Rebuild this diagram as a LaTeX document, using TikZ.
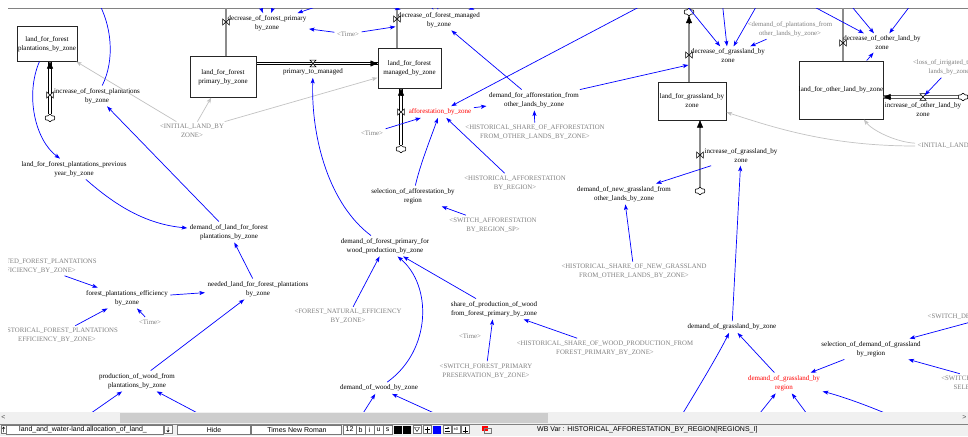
\documentclass[tikz,border=0pt]{standalone}
\usepackage{fontspec}
\setmainfont{Liberation Serif}
\newfontfamily\uifont{Liberation Sans}
\usetikzlibrary{arrows.meta,calc,shapes.symbols}

\definecolor{linkblue}{RGB}{0,0,255}
\definecolor{shadowtxt}{RGB}{128,128,128}
\definecolor{shadowline}{RGB}{195,195,195}
\definecolor{vred}{RGB}{255,0,0}
\definecolor{barbg}{RGB}{240,240,240}
\definecolor{thumbgray}{RGB}{205,205,205}
\definecolor{rulegray}{RGB}{130,130,130}
\definecolor{fieldline}{RGB}{120,120,120}

\tikzset{
  vtxt/.style={font=\fontsize{7}{9}\selectfont, align=center, inner sep=2.5pt},
  auxv/.style={vtxt},
  redv/.style={vtxt, text=vred},
  shadowv/.style={vtxt, font=\fontsize{6.8}{8.8}\selectfont, text=shadowtxt},
  stock/.style 2 args={draw=black!85, line width=1pt, fill=white, align=center,
      font=\fontsize{7}{9}\selectfont, inner sep=1pt, minimum width=#1pt, minimum height=#2pt},
  link/.style={draw=linkblue, line width=0.7pt, -{Stealth[length=5.5pt,width=4pt,inset=1.2pt]}},
  freelink/.style={draw=linkblue, line width=0.7pt},
  glink/.style={draw=shadowline, line width=0.7pt, -{Stealth[length=5.5pt,width=4pt,inset=1.2pt]}},
  pipew/.style={draw=black, line width=0.8pt, double=white, double distance=1.8pt},
  pipeg/.style={draw=black!75, line width=0.7pt, double=black!45, double distance=1.5pt},
  flowtip/.style={-{Triangle[length=7pt,width=6pt]}, line width=0.4pt, draw=black, fill=black},
  srccloud/.style={cloud, cloud puffs=6, cloud puff arc=140, aspect=1.3, draw=black, fill=white,
      line width=0.6pt, minimum width=10pt, minimum height=7.5pt, inner sep=0pt},
  valveV/.pic={\filldraw[fill=white, draw=black, line width=0.6pt]
      (-3.4,-3) -- (-3.4,3) -- (3.4,-3) -- (3.4,3) -- cycle;},
  valveH/.pic={\filldraw[fill=white, draw=black, line width=0.6pt]
      (-3,-3.4) -- (3,-3.4) -- (-3,3.4) -- (3,3.4) -- cycle;},
  uitxt/.style={font=\uifont\fontsize{7}{8}\selectfont, inner sep=0pt},
  uibox/.style={draw=fieldline, line width=0.5pt, fill=white},
}

\begin{document}
\begin{tikzpicture}[x=1pt,y=-1pt]
\useasboundingbox (0,0) rectangle (968,436);
\fill[white] (0,0) rectangle (968,436);
\draw[rulegray, line width=0.8pt] (8,8) -- (968,8);

\begin{scope}
\clip (8,8.5) rectangle (968,412);

% ---------- stocks
\node[stock={60}{34}] (s1) at (47,44) {land\_for\_forest\\plantations\_by\_zone};
\node[stock={66}{40}] (s2) at (223,77) {land\_for\_forest\\primary\_by\_zone};
\node[stock={63}{39}] (s3) at (409.5,68.5) {land\_for\_forest\\managed\_by\_zone};
\node[stock={68}{38}] (s4) at (692,101) {land\_for\_grassland\_by\\zone};
\node[stock={84}{58}] (s5) at (841,90) {\makebox[0pt]{land\_for\_other\_land\_by\_zone}};

% ---------- sources and sinks
\node[srccloud] (c1) at (50,118) {};
\node[srccloud] (c5) at (401,149) {};
\node[srccloud] (c6) at (689,12) {};
\node[srccloud] (c7) at (700,191) {};
\node[srccloud] (c9) at (963,97) {};

% ---------- pipe end points
\coordinate (e1) at (c1 |- s1.south);
\coordinate (top2) at (226,0);
\coordinate (e2) at (s2.north -| top2);
\coordinate (v3) at (313,63.5);
\coordinate (e3a) at (s2.east |- v3);
\coordinate (e3b) at (s3.west |- v3);
\coordinate (top4) at (397,0);
\coordinate (e4) at (s3.north -| top4);
\coordinate (e5) at (c5 |- s3.south);
\coordinate (e6) at (c6 |- s4.north);
\coordinate (e7) at (c7 |- s4.south);
\coordinate (top8) at (843,0);
\coordinate (e8) at (s5.north -| top8);
\coordinate (v9) at (923,97);
\coordinate (e9) at (s5.east |- v9);
\coordinate (c1top) at (c1.north);
\coordinate (c5top) at (c5.north);

% ---------- pipes
\draw[pipew] (c1top) -- (e1);
\draw[pipeg] (e2) -- (top2);
\draw[pipew] (e3a) -- (e3b);
\draw[pipeg] (e4) -- (top4);
\draw[pipew] (c5top) -- (e5);
\draw[pipeg] (e6) -- (c6);
\draw[pipeg] (c7) -- (e7);
\draw[pipeg] (e8) -- (top8);
\draw[pipew] (c9) -- (e9);

% ---------- flow arrow heads
\draw[flowtip] ($(e1)+(0,7)$) -- (e1);
\draw[flowtip] ($(e3b)+(-7,0)$) -- (e3b);
\draw[flowtip] ($(e5)+(0,7)$) -- (e5);
\draw[flowtip] ($(c6.south)+(0,7)$) -- (c6.south);
\draw[flowtip] ($(e7)+(0,7)$) -- (e7);
\draw[flowtip] ($(e9)+(7,0)$) -- (e9);

% ---------- valves
\coordinate (v1) at (50,95);
\coordinate (v2) at (226,22);
\coordinate (v4) at (397,19);
\coordinate (v5) at (401,112);
\coordinate (v6) at (689,55);
\coordinate (v7) at (700,155);
\coordinate (v8) at (843,43);
\pic at (v1) {valveV};
\pic at (v2) {valveV};
\pic at (v3) {valveH};
\pic at (v4) {valveV};
\pic at (v5) {valveV};
\pic at (v6) {valveV};
\pic at (v7) {valveV};
\pic at (v8) {valveV};
\pic at (v9) {valveH};

% ---------- variables
\node[auxv] (a1) at (97,96) {increase\_of\_forest\_plantations\\by\_zone};
\node[auxv] (a2) at (267,23.5) {decrease\_of\_forest\_primary\\by\_zone};
\node[auxv] (a3) at (313,72) {primary\_to\_managed};
\node[auxv] (a4) at (439,20) {decrease\_of\_forest\_managed\\by\_zone};
\node[redv] (a5) at (440,112) {afforestation\_by\_zone};
\node[auxv] (a6) at (534,100) {demand\_for\_afforestation\_from\\other\_lands\_by\_zone};
\node[auxv] (a7) at (413,196) {selection\_of\_afforestation\_by\\region};
\node[auxv] (a8) at (74,169) {land\_for\_forest\_plantations\_previous\\year\_by\_zone};
\node[auxv] (a9) at (229,232) {demand\_of\_land\_for\_forest\\plantations\_by\_zone};
\node[auxv] (a10) at (258,289) {needed\_land\_for\_forest\_plantations\\by\_zone};
\node[auxv] (a11) at (127,298) {forest\_plantations\_efficiency\\by\_zone};
\node[auxv] (a12) at (137,381) {production\_of\_wood\_from\\plantations\_by\_zone};
\node[auxv] (a13) at (385,246) {demand\_of\_forest\_primary\_for\\wood\_production\_by\_zone};
\node[auxv] (a14) at (494,309) {share\_of\_production\_of\_wood\\from\_forest\_primary\_by\_zone};
\node[auxv] (a15) at (379,388) {demand\_of\_wood\_by\_zone};
\node[auxv] (a16) at (728,56) {decrease\_of\_grassland\_by\\zone};
\node[auxv] (a17) at (741,156) {increase\_of\_grassland\_by\\zone};
\node[auxv] (a18) at (624,194) {demand\_of\_new\_grassland\_from\\other\_lands\_by\_zone};
\node[auxv] (a19) at (732,327) {demand\_of\_grassland\_by\_zone};
\node[auxv] (a20) at (871,349) {selection\_of\_demand\_of\_grassland\\by\_region};
\node[redv] (a21) at (784,383) {demand\_of\_grassland\_by\\region};
\node[auxv] (a22) at (882,43) {decrease\_of\_other\_land\_by\\zone};
\node[auxv] (a23) at (923,110) {increase\_of\_other\_land\_by\\zone};

% ---------- shadow variables
\node[shadowv] (g1) at (348,34) {<Time>};
\node[shadowv] (g2) at (192,131) {<INITIAL\_LAND\_BY\\ZONE>};
\node[shadowv] (g3) at (372,133) {<Time>};
\node[shadowv] (g4) at (535,132.5) {<HISTORICAL\_SHARE\_OF\_AFFORESTATION\\FROM\_OTHER\_LANDS\_BY\_ZONE>};
\node[shadowv] (g5) at (515,183) {<HISTORICAL\_AFFORESTATION\\BY\_REGION>};
\node[shadowv] (g6) at (493,225) {<SWITCH\_AFFORESTATION\\BY\_REGION\_SP>};
\node[shadowv] (g7) at (790,29) {<demand\_of\_plantations\_from\\other\_lands\_by\_zone>};
\node[shadowv] (g8) at (951,67.5) {<loss\_of\_irrigated\_to\_other\\lands\_by\_zone>};
\node[shadowv, anchor=west] (g9) at (915,146) {<INITIAL\_LAND\_BY\_ZONE>};
\node[shadowv] (g10) at (348,316.5) {<FOREST\_NATURAL\_EFFICIENCY\\BY\_ZONE>};
\node[shadowv] (g11) at (470,336) {<Time>};
\node[shadowv] (g12) at (486,371) {<SWITCH\_FOREST\_PRIMARY\\PRESERVATION\_BY\_ZONE>};
\node[shadowv] (g13) at (605,348) {<HISTORICAL\_SHARE\_OF\_WOOD\_PRODUCTION\_FROM\\FOREST\_PRIMARY\_BY\_ZONE>};
\node[shadowv] (g14) at (634,271.5) {<HISTORICAL\_SHARE\_OF\_NEW\_GRASSLAND\\FROM\_OTHER\_LANDS\_BY\_ZONE>};
\node[shadowv] (g15) at (37,266) {<PROJECTED\_FOREST\_PLANTATIONS\\EFFICIENCY\_BY\_ZONE>};
\node[shadowv] (g16) at (57,335.5) {<HISTORICAL\_FOREST\_PLANTATIONS\\EFFICIENCY\_BY\_ZONE>};
\node[shadowv] (g17) at (150,322) {<Time>};
\node[shadowv, anchor=west] (g18) at (925,317) {<SWITCH\_DEMAND\_OF\_GRASSLAND>};
\node[shadowv] (g19) at (995,383.5) {<SWITCH\_DEMAND\_GRASSLAND\\SELECTION\_BY\_REGION>};

% ---------- free ends of links leaving the visible area
\coordinate (t0) at (97,0);
\coordinate (t1) at (641,6);
\coordinate (t2) at (258,0);
\coordinate (t3) at (276,0);
\coordinate (t4) at (330,2);
\coordinate (t5) at (380,4);
\coordinate (t6) at (428,0);
\coordinate (t7) at (437,0);
\coordinate (t8) at (490,2);
\coordinate (t9) at (684,2);
\coordinate (t10) at (722,0);
\coordinate (t11) at (760,0);
\coordinate (t12) at (805,2);
\coordinate (t13) at (848,2);
\coordinate (t14) at (913,2);
\coordinate (b1) at (84,418);
\coordinate (b2) at (207,418);
\coordinate (b3) at (360,418);
\coordinate (b4) at (445,418);
\coordinate (b5) at (680,418);
\coordinate (b6) at (756,418);
\coordinate (b7) at (810,418);
\coordinate (b8) at (892,416);

% ---------- initial-value links
\draw[glink] (g2) -- (s1);
\draw[glink] (g2) -- (s2);
\draw[glink] (g2) -- (s3);
\draw[glink] (g9) .. controls (830,146) and (775,128) .. (s4);
\draw[glink] (g9) .. controls (895,142) and (872,130) .. (s5);

% ---------- forest links
\draw[link] (g1) -- (a2);
\draw[link] (g1) -- (a4);
\draw[link] (t2) -- (a2);
\draw[link] (t3) -- (a2);
\draw[link] (t4) -- (a2);
\draw[link] (t5) -- (a4);
\draw[link] (t6) -- (a4);
\draw[link] (t7) -- (a4);
\draw[link] (t8) -- (a4);
\draw[link] (g3) -- (a5);
\draw[link] (a7) .. controls (420,165) and (430,140) .. (a5);
\draw[link] (g5) -- (a5);
\draw[link] (a5) -- (a6);
\draw[link] (t1) -- (a5);
\draw[link] (a6) -- (a4);
\draw[link] (a6) -- (a16);
\draw[link] (g4) -- (a6);
\draw[link] (g6) -- (a7);
\draw[link] (a9) -- (a1);
\draw[freelink] (a1) .. controls (115,60) and (112,25) .. (t0);
\draw[link] (s1) .. controls (25,95) and (35,140) .. (a8);
\draw[link] (a8) .. controls (115,205) and (145,224) .. (a9);
\draw[link] (a10) -- (a9);
\draw[link] (a11) -- (a10);
\draw[link] (g15) -- (a11);
\draw[link] (g16) -- (a11);
\draw[link] (g17) -- (a11);
\draw[link] (a12) -- (a10);
\draw[link] (b1) -- (a12);
\draw[link] (b2) -- (a12);
\draw[link] (a13) .. controls (330,205) and (311,140) .. (a3);
\draw[link] (g10) -- (a13);
\draw[link] (a15) .. controls (432,350) and (432,285) .. (a13);
\draw[link] (a14) -- (a13);
\draw[link] (g12) -- (a14);
\draw[link] (g13) -- (a14);
\draw[link] (b3) -- (a15);
\draw[link] (b4) -- (a15);

% ---------- grassland and other land links
\draw[link] (t9) -- (a16);
\draw[link] (t10) -- (a16);
\draw[link] (t11) -- (a16);
\draw[link] (g7) -- (a16);
\draw[link] (t12) -- (a22);
\draw[link] (t13) -- (a22);
\draw[link] (t14) -- (a22);
\draw[link] (s5) -- (a22);
\draw[link, shorten >=2.5pt] (g8) -- (v9);
\draw[link] (a17) -- (a18);
\draw[link] (g14) -- (a18);
\draw[link] (a19) -- (a17);
\draw[link] (a21) -- (a19);
\draw[link] (b5) .. controls (700,385) and (718,355) .. (a19);
\draw[link] (a20) -- (a21);
\draw[link] (g18) -- (a20);
\draw[link] (g19) -- (a20);
\draw[link] (b6) -- (a21);
\draw[link] (b7) -- (a21);
\draw[link] (b8) .. controls (850,398) and (825,392) .. (a21);
\end{scope}

% ---------- horizontal scroll bar
\fill[barbg] (0,412) rectangle (968,423.5);
\fill[thumbgray] (120,412.5) rectangle (548,423);
\node[uitxt, text=black!70] (scrL) at (3.5,417.7) {<};
\node[uitxt, text=black!70] (scrR) at (964.5,417.7) {>};

% ---------- status bar
\fill[barbg] (0,423.5) rectangle (968,436);
\draw[rulegray, line width=0.5pt] (0,423.8) -- (968,423.8);
\draw[uibox] (0.8,425.5) rectangle (6.5,433.5);
\draw[line width=0.5pt] (3.6,427) -- (3.6,432) (2.3,428.6) -- (3.6,427) -- (4.9,428.6);
\draw[uibox] (6.5,425) rectangle (163,434);
\node[uitxt, anchor=west] (model) at (19,429.5) {land\_and\_water-land.allocation\_of\_land\_};
\draw[uibox] (164,425.5) rectangle (172,433.5);
\draw[line width=0.5pt] (168,427) -- (168,432) (166.7,430.4) -- (168,432) -- (169.3,430.4);
\draw[uibox] (177,425) rectangle (250,434);
\node[uitxt] (hide) at (214,429.5) {Hide};
\draw[uibox] (251,425) rectangle (341,434);
\node[uitxt] (fontname) at (297,429.5) {Times New Roman};
\draw[uibox] (343,425) rectangle (356,434);
\node[uitxt] (fsize) at (349.5,429.5) {12};
\draw[uibox] (356,425) rectangle (365,434);
\node[uitxt] (fb) at (360.5,429.5) {b};
\draw[uibox] (365,425) rectangle (374,434);
\node[uitxt] (fi) at (369.5,429.5) {i};
\draw[uibox] (374,425) rectangle (383,434);
\node[uitxt] (fu) at (378.5,429.5) {u};
\draw[uibox] (383,425) rectangle (392,434);
\node[uitxt] (fs) at (387.5,429.5) {s};
\fill[black] (394,425.5) rectangle (402,433.5);
\fill[black] (403,425.5) rectangle (411,433.5);
\draw[uibox] (413,425.5) rectangle (421,433.5);
\draw[line width=0.4pt] (414.5,427.5) -- (419.5,427.5) -- (417,431.5) -- cycle;
\draw[uibox] (423,425.5) rectangle (431,433.5);
\draw[line width=0.4pt] (427,426.5) -- (427,432.5) (424.5,429.5) -- (429.5,429.5);
\fill[linkblue] (433,425.5) rectangle (441,433.5);
\draw[uibox] (443,425.5) rectangle (451,433.5);
\draw[line width=0.4pt, -{Stealth[length=2pt,width=2pt]}] (444.5,428) -- (449.5,428);
\draw[line width=0.4pt] (444.5,431.5) -- (449.5,431.5);
\draw[uibox] (452,425.5) rectangle (460,433.5);
\node[uitxt, font=\uifont\fontsize{4}{4}\selectfont] (zero) at (456,429.5) {±0};
\draw[uibox] (461,425.5) rectangle (469,433.5);
\draw[line width=0.4pt] (465,426.5) -- (465,432.5) (462.5,431) -- (467.5,431);
\fill[vred] (482,425.5) rectangle (488,431);
\draw[uibox, fill=none] (484,428) rectangle (491,433.5);
\node[uitxt, anchor=west] (wbvar) at (537,429.5) {WB Var : HISTORICAL\_AFFORESTATION\_BY\_REGION[REGIONS\_I]};
\end{tikzpicture}
\end{document}
